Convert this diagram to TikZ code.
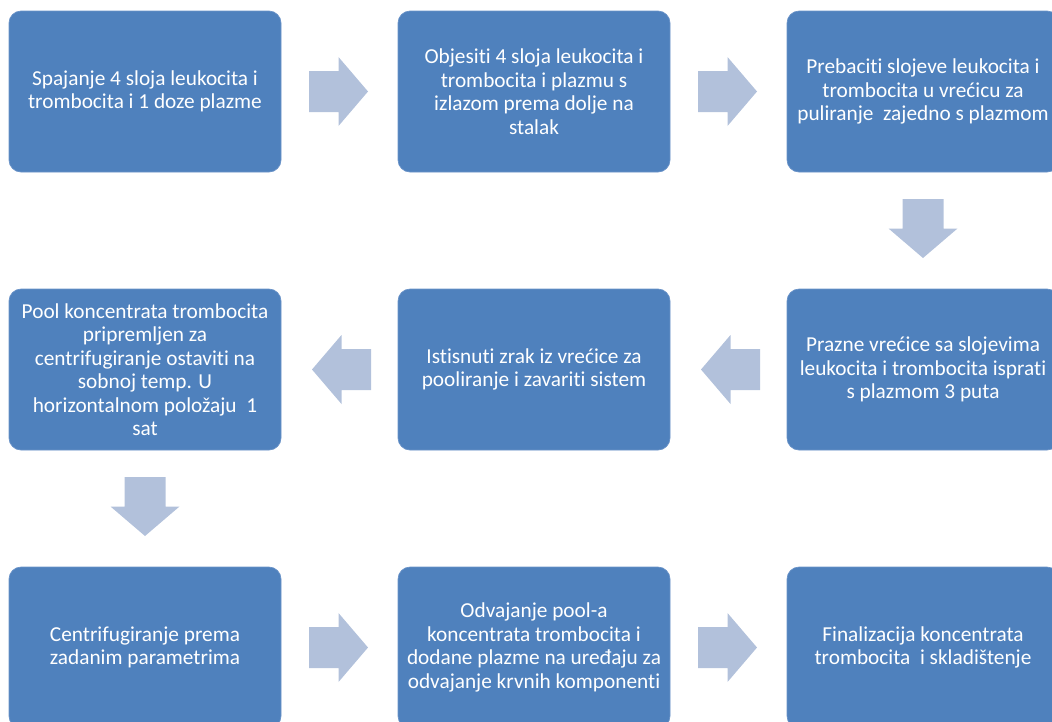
\documentclass[tikz,border=0pt]{standalone}
\usepackage{fontspec}
\setmainfont{Carlito}[Ligatures=NoCommon]
\usetikzlibrary{calc}
\definecolor{boxfill}{HTML}{4F81BD}
\definecolor{boxline}{HTML}{6A93C8}
\definecolor{arrowfill}{HTML}{B2C1DB}
\tikzset{
  stepbox/.style={rectangle, rounded corners=12pt, fill=boxfill, draw=boxline, line width=0.7pt,
    minimum width=272pt, minimum height=161pt, inner sep=2pt, align=center, text=white,
    font=\fontsize{21.3pt}{23.5pt}\selectfont},
  blockarrow/.pic={\fill[arrowfill] (-29.5,-20.5) -- (0,-20.5) -- (0,-34.5) -- (29.5,0) -- (0,34.5) -- (0,20.5) -- (-29.5,20.5) -- cycle;}
}
\begin{document}
\begin{tikzpicture}[x=1pt,y=1pt]
\useasboundingbox (0,0) rectangle (1052,-721);
\clip (0,0) rectangle (1052,-721);
\node[stepbox] (b1) at (145,-91.5) {Spajanje 4 sloja leukocita i\\trombocita i 1 doze plazme};
\node[stepbox] (b2) at (534,-91.5) {Objesiti 4 sloja leukocita i\\trombocita i plazmu s\\izlazom prema dolje na\\stalak};
\node[stepbox] (b3) at (923,-91.5) {Prebaciti slojeve leukocita i\\trombocita u vrećicu za\\puliranje\ \ zajedno s plazmom};
\node[stepbox] (b6) at (923,-369.5) {Prazne vrećice sa slojevima\\leukocita i trombocita isprati\\s plazmom 3 puta};
\node[stepbox] (b5) at (534,-369.5) {Istisnuti zrak iz vrećice za\\pooliranje i zavariti sistem};
\node[stepbox] (b4) at (145,-369.5) {Pool koncentrata trombocita\\pripremljen za\\centrifugiranje ostaviti na\\sobnoj temp. U\\horizontalnom položaju\ \ 1\\sat};
\node[stepbox] (b7) at (145,-647.5) {Centrifugiranje prema\\zadanim parametrima};
\node[stepbox] (b8) at (534,-647.5) {Odvajanje pool-a\\koncentrata trombocita i\\dodane plazme na uređaju za\\odvajanje krvnih komponenti};
\node[stepbox] (b9) at (923,-647.5) {Finalizacija koncentrata\\trombocita\ \ i skladištenje};
\pic at ($(b1.east)!0.5!(b2.west)+(-1,0)$) {blockarrow};
\pic at ($(b2.east)!0.5!(b3.west)+(-1,0)$) {blockarrow};
\pic[rotate=-90] at ($(b3.south)!0.5!(b6.north)+(0,2)$) {blockarrow};
\pic[rotate=180] at ($(b6.west)!0.5!(b5.east)+(2,0)$) {blockarrow};
\pic[rotate=180] at ($(b5.west)!0.5!(b4.east)+(2,0)$) {blockarrow};
\pic[rotate=-90] at ($(b4.south)!0.5!(b7.north)+(0,2)$) {blockarrow};
\pic at ($(b7.east)!0.5!(b8.west)+(-1,0)$) {blockarrow};
\pic at ($(b8.east)!0.5!(b9.west)+(-1,0)$) {blockarrow};
\end{tikzpicture}
\end{document}
